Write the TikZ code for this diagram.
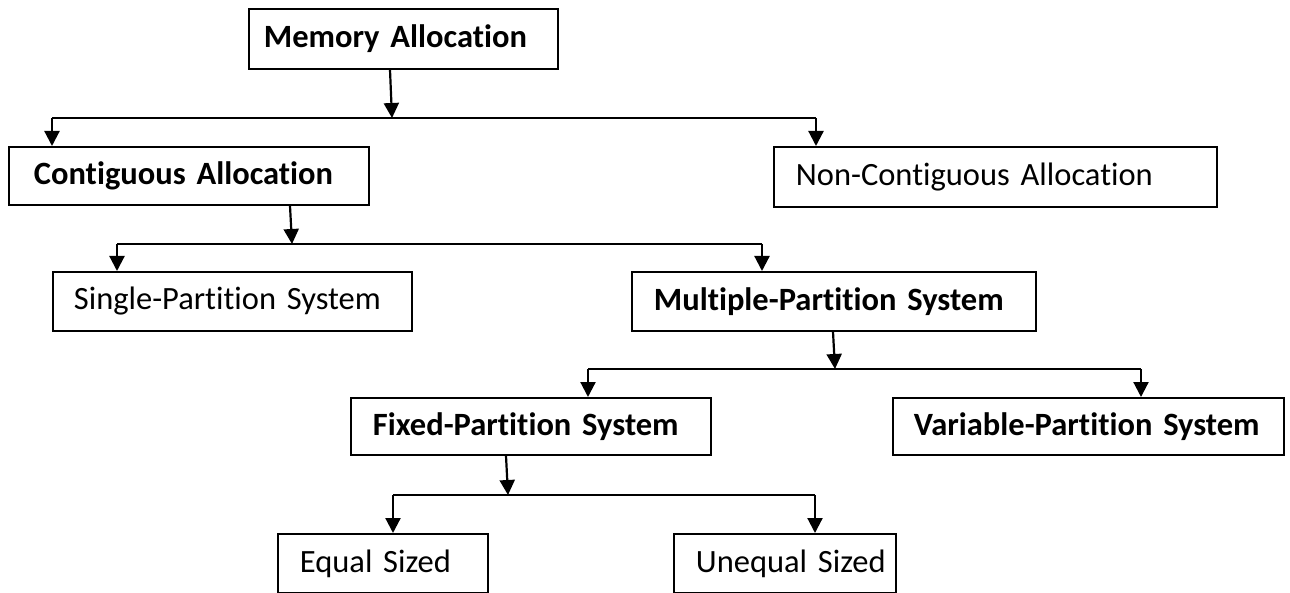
\documentclass[tikz,border=0pt]{standalone}
\usepackage{fontspec}
\setmainfont{Carlito}[Ligatures={NoCommon}]
\usetikzlibrary{arrows.meta,calc}
% tighter interword space for the box labels
\newcommand{\labelfont}{\fontsize{32.5}{37}\selectfont\spaceskip=0.24em\relax}
\begin{document}
\begin{tikzpicture}[x=1pt,y=-1pt,
  box/.style={draw, line width=1.8pt, anchor=north west, align=left,
    inner ysep=0pt, font=\labelfont},
  bbox/.style={box, font=\labelfont\bfseries},
  bus/.style={line width=2.4pt},
  conn/.style={line width=2.2pt, -{Triangle[length=15pt,width=15pt]}}]
\useasboundingbox (0,0) rectangle (1290,593);

% boxes: top-left corner, width, height, left padding
\node[bbox, minimum height=60pt, inner xsep=15pt, text width=279pt] (ma) at (248,8) {\mbox{Memory Allocation}};
\node[bbox, minimum height=58pt, inner xsep=25pt, text width=310pt] (contig) at (8,146) {\mbox{Contiguous Allocation}};
\node[box, minimum height=60pt, inner xsep=22pt, text width=399pt] (noncontig) at (773,146) {\mbox{Non-Contiguous Allocation}};
\node[box, minimum height=59pt, inner xsep=21pt, text width=317pt] (single) at (52,271) {\mbox{Single-Partition System}};
\node[bbox, minimum height=59pt, inner xsep=22pt, text width=360pt] (multi) at (631,271) {\mbox{Multiple-Partition System}};
\node[bbox, minimum height=57pt, inner xsep=22pt, text width=316pt] (fixed) at (350,397) {\mbox{Fixed-Partition System}};
\node[bbox, minimum height=57pt, inner xsep=21pt, text width=349pt] (variable) at (892,397) {\mbox{Variable-Partition System}};
\node[box, minimum height=59pt, inner xsep=22pt, text width=166pt] (equal) at (277,533) {\mbox{Equal Sized}};
\node[box, minimum height=59pt, inner xsep=22pt, text width=178pt] (unequal) at (673,533) {\mbox{Unequal Sized}};

% branching buses
\coordinate (b1l) at (52,118);  \coordinate (b1m) at (392,118); \coordinate (b1r) at (816,118);
\coordinate (b2l) at (117,244); \coordinate (b2m) at (292,244); \coordinate (b2r) at (762,244);
\coordinate (b3l) at (588,369); \coordinate (b3m) at (835,369); \coordinate (b3r) at (1141,369);
\coordinate (b4l) at (393,495); \coordinate (b4m) at (508,495); \coordinate (b4r) at (815,495);

% Memory Allocation
\draw[conn] ([xshift=142pt]ma.south west) -- (b1m);
\draw[bus] (b1l) -- (b1r);
\draw[conn] (b1l) -- (contig.north -| b1l);
\draw[conn] (b1r) -- (noncontig.north -| b1r);

% Contiguous Allocation
\draw[conn] ([xshift=282pt]contig.south west) -- (b2m);
\draw[bus] (b2l) -- (b2r);
\draw[conn] (b2l) -- (single.north -| b2l);
\draw[conn] (b2r) -- (multi.north -| b2r);

% Multiple-Partition System
\draw[conn] ([xshift=202pt]multi.south west) -- (b3m);
\draw[bus] (b3l) -- (b3r);
\draw[conn] (b3l) -- (fixed.north -| b3l);
\draw[conn] (b3r) -- (variable.north -| b3r);

% Fixed-Partition System
\draw[conn] ([xshift=156pt]fixed.south west) -- (b4m);
\draw[bus] (b4l) -- (b4r);
\draw[conn] (b4l) -- ([xshift=116pt]equal.north west);
\draw[conn] (b4r) -- (unequal.north -| b4r);
\end{tikzpicture}
\end{document}
